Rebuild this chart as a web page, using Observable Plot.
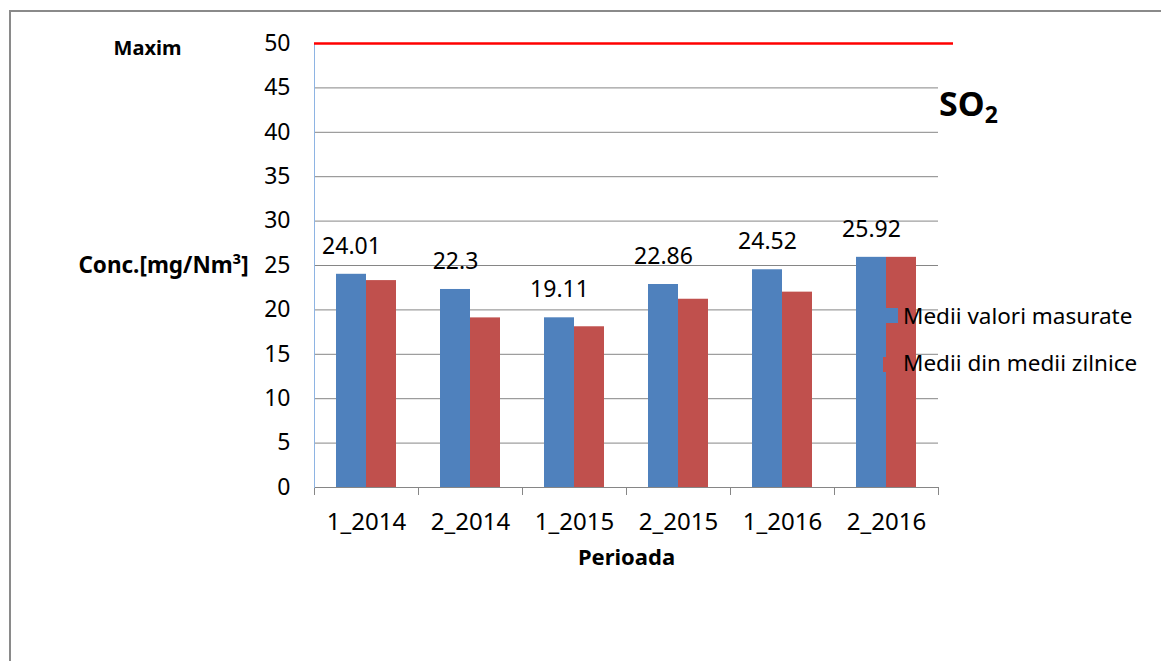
<!DOCTYPE html>
<html>
<head>
<meta charset="utf-8">
<script src="https://cdn.jsdelivr.net/npm/d3@7"></script>
<script src="https://cdn.jsdelivr.net/npm/@observablehq/plot@0.6"></script>
<style>
  html, body { margin: 0; padding: 0; background: #fff; }
  #wrap { position: relative; width: 1161px; height: 661px; overflow: hidden; font-family: "Noto Sans", sans-serif; }
  #border { position: absolute; left: 9px; top: 10px; width: 2000px; height: 2000px; border-left: 2px solid #8a8a8a; border-top: 2px solid #8a8a8a; }
  #chart { position: absolute; left: 0; top: 0; }
  .ov { position: absolute; white-space: nowrap; color: #000; }
  .sw { position: absolute; }
</style>
</head>
<body>
<div id="wrap">
  <div id="border"></div>
  <div id="chart"></div>
  <div class="ov" id="title" style="left:939px; top:80px; font-size:34px; font-weight:bold;">SO<sub style="font-size:23px; vertical-align:-7px;">2</sub></div>
  <div class="sw" style="left:886px; top:308px; width:12px; height:15px; background:#4F81BD;"></div>
  <div class="ov" style="left:903px; top:300px; font-size:22.5px; line-height:32px;">Medii valori masurate</div>
  <div class="sw" style="left:883px; top:357px; width:14px; height:15px; background:#C0504D;"></div>
  <div class="ov" style="left:903px; top:347px; font-size:22.5px; line-height:32px;">Medii din medii zilnice</div>
</div>
<script>
const periods = ["1_2014", "2_2014", "1_2015", "2_2015", "1_2016", "2_2016"];
const measured = [24.01, 22.3, 19.11, 22.86, 24.52, 25.92];
const dailyMeans = [23.3, 19.1, 18.1, 21.2, 22.0, 25.92];
const maxLimit = 50;
const yTicks = [0, 5, 10, 15, 20, 25, 30, 35, 40, 45, 50];
const seriesNames = ["Medii valori masurate", "Medii din medii zilnice"];

const rows = periods.map((p, i) => ({period: p, measured: measured[i], daily: dailyMeans[i]}));

const chart = Plot.plot({
  width: 1161,
  height: 661,
  marginLeft: 314,
  marginRight: 223,
  marginTop: 43,
  marginBottom: 174,
  style: {fontFamily: "Noto Sans", background: "transparent", color: "#000", overflow: "visible"},
  x: {domain: periods, padding: 0},
  y: {domain: [0, 50]},
  marks: [
    Plot.gridY(yTicks, {stroke: "#868686", strokeOpacity: 1}),
    Plot.barY(rows, {x: "period", y: "measured", fill: "#4F81BD", insetLeft: 22, insetRight: 52}),
    Plot.barY(rows, {x: "period", y: "daily", fill: "#C0504D", insetLeft: 52, insetRight: 22}),
    Plot.ruleY([0], {stroke: "#868686"}),
    Plot.ruleX(periods, {x: d => d, dx: -52, y1: 0, y2: -0.9, stroke: "#868686", clip: false}),
    Plot.ruleX(periods.slice(-1), {x: d => d, dx: 52, y1: 0, y2: -0.9, stroke: "#868686", clip: false}),
    Plot.frame({anchor: "left", stroke: "#8EB4E3"}),
    Plot.ruleY([maxLimit], {stroke: "#FF0000", strokeWidth: 2.5, insetRight: -15}),
    Plot.text(rows, {x: "period", y: "measured", text: d => String(d.measured), dx: -15, dy: -28, fontSize: 23, fill: "#000"}),
    Plot.axisY(yTicks, {tickSize: 0, tickPadding: 24, fontSize: 23, label: null}),
    Plot.axisX({tickSize: 0, tickPadding: 25, fontSize: 24, label: null}),
    Plot.text(["Maxim"], {frameAnchor: "left", y: [maxLimit], dx: -167, dy: 5, fontSize: 20, fontWeight: "bold", textAnchor: "middle"}),
    Plot.text(["Conc.[mg/Nm³]"], {frameAnchor: "left", y: [25], dx: -151, fontSize: 22.5, fontWeight: "bold", textAnchor: "middle"}),
    Plot.text(["Perioada"], {frameAnchor: "bottom", dy: 77, fontSize: 22, fontWeight: "bold"})
  ]
});
document.getElementById("chart").appendChild(chart);
</script>
</body>
</html>
